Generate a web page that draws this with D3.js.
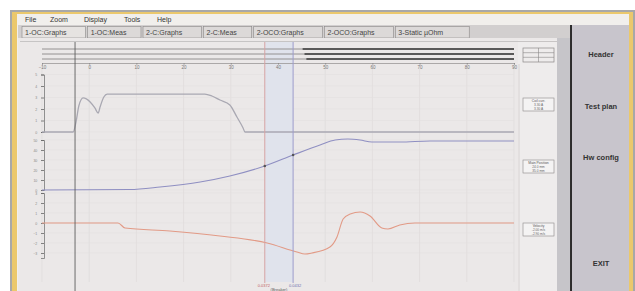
<!DOCTYPE html>
<html>
<head>
<meta charset="utf-8">
<script src="https://cdn.jsdelivr.net/npm/d3@7"></script>
<style>
  html, body { margin: 0; padding: 0; background: #fff; }
  svg { display: block; font-family: "Liberation Sans", Arial, sans-serif; }
</style>
</head>
<body>
<svg id="chart" width="635" height="291"></svg>
<script>
// ---- data (time in ms) ----
const menuItems  = ["File", "Zoom", "Display", "Tools", "Help"];
const tabNames   = ["1-OC:Graphs", "1-OC:Meas", "2-C:Graphs", "2-C:Meas", "2-OCO:Graphs", "2-OCO:Graphs", "3-Static \u00b5Ohm"];
const sideButtons = ["Header", "Test plan", "Hw config", "EXIT"];
const timeTicks  = [-10, 0, 10, 20, 30, 40, 50, 60, 70, 80, 90];

// coil current (A)
const coilTime = [-10, -3.4, -2.8, -2.2, -1.3, 0.2, 1.2, 1.9, 2.3, 3.1, 3.8, 24.5, 26.0, 27.7, 29.8, 31.3, 32.6, 33.0, 90];
const coilAmp  = [0, 0, 0.87, 2.26, 2.96, 2.61, 2.09, 1.65, 2.17, 3.04, 3.3, 3.3, 3.13, 2.78, 2.35, 1.3, 0.35, 0, 0];

// main contact travel (mm)
const travelTime = [-10, 8.6, 15.0, 23.5, 29.8, 37.2, 43.2, 48.9, 52.1, 54.8, 57.4, 59.9, 65.8, 72.2, 90];
const travelMm   = [0, 0.5, 3, 8, 14, 24, 35, 45, 50, 51, 50, 48, 48, 49, 49];

// velocity (m/s)
const velTime = [-10, 6.1, 7.6, 17.1, 27.7, 37.7, 44.0, 45.7, 47.2, 51.0, 52.5, 53.8, 55.3, 57.4, 59.5, 62.0, 63.3, 65.8, 69.0, 90];
const velMs   = [0, 0, -0.5, -0.8, -1.3, -2.0, -2.9, -3.1, -3.0, -2.4, -1.4, 0.4, 0.9, 1.1, 0.7, -0.5, -0.6, -0.2, 0, 0];

// contact timing channels: change of state (ms)
const contactNames = ["A", "B", "C"];
const contactOpen  = [45.2, 45.6, 46.0];

// cursors (ms)
const cursorNames = ["T0", "C1", "C2"];
const cursorTime  = [-3.0, 37.2, 43.2];

const infoTitles = ["Coil curr.", "Main Position", "Velocity"];
const infoValues = [["3.30 A", "3.30 A"], ["24.0 mm", "35.0 mm"], ["-2.00 m/s", "-2.90 m/s"]];

// ---- drawing ----
const svg = d3.select("#chart");
const W = 635, H = 291;

const x  = d3.scaleLinear().domain([-10, 90]).range([42, 514]);
const y1 = d3.scaleLinear().domain([0, 5]).range([132, 74.5]);
const y2 = d3.scaleLinear().domain([0, 50]).range([190, 140]);
const y3 = d3.scaleLinear().domain([-3.5, 3]).range([258, 193]);

// window frame
svg.append("rect").attr("width", W).attr("height", H).attr("fill", "#fff");
svg.append("rect").attr("x", 10).attr("y", 10).attr("width", 625).attr("height", 281).attr("fill", "#a8a8a8");
svg.append("rect").attr("x", 12).attr("y", 12).attr("width", 621).attr("height", 279).attr("fill", "#ebc86c");
svg.append("rect").attr("x", 17).attr("y", 14).attr("width", 612).attr("height", 277).attr("fill", "#f1efec");

// menu
const menuX = [25, 50, 84, 124, 157];
menuItems.forEach((m, i) => {
  svg.append("text").attr("x", menuX[i]).attr("y", 22).attr("font-size", 7).attr("fill", "#333").text(m);
});

// tab row
svg.append("rect").attr("x", 18).attr("y", 25).attr("width", 552).attr("height", 13).attr("fill", "#d2cfcf");
let tx = 22;
tabNames.forEach((t, i) => {
  const w = t.length * 5.15 + 7;
  svg.append("rect").attr("x", tx).attr("y", 26.5).attr("width", w).attr("height", 11.5)
    .attr("fill", i === 0 ? "#e6e3e1" : "#dcd9d8").attr("stroke", "#8a8888").attr("stroke-width", 0.6);
  svg.append("text").attr("x", tx + 3).attr("y", 35).attr("font-size", 7).attr("fill", "#444").text(t);
  tx += w + 2;
});

// right panel
svg.append("rect").attr("x", 571).attr("y", 25).attr("width", 58).attr("height", 266).attr("fill", "#c8c5cc");
svg.append("line").attr("x1", 571).attr("x2", 571).attr("y1", 25).attr("y2", 291).attr("stroke", "#1a1a1a").attr("stroke-width", 1.8);
const btnY = [57, 109, 160, 266];
sideButtons.forEach((b, i) => {
  svg.append("text").attr("x", 601).attr("y", btnY[i]).attr("text-anchor", "middle")
    .attr("font-size", 7.5).attr("font-weight", "bold").attr("fill", "#333").text(b);
});

// plot panel
svg.append("rect").attr("x", 18).attr("y", 38).attr("width", 540).attr("height", 253).attr("fill", "#ebe8e8");
svg.append("rect").attr("x", 557).attr("y", 38).attr("width", 13).attr("height", 253).attr("fill", "#c6c5c9");
svg.append("rect").attr("x", 518).attr("y", 40).attr("width", 39).attr("height", 251).attr("fill", "#eeecec");
svg.append("line").attr("x1", 519).attr("x2", 519).attr("y1", 64).attr("y2", 291).attr("stroke", "#d0cdcd").attr("stroke-width", 0.8);
svg.append("line").attr("x1", 20).attr("x2", 557).attr("y1", 41.5).attr("y2", 41.5).attr("stroke", "#bdbaba").attr("stroke-width", 0.8);

// faint grid
const grid = svg.append("g").attr("stroke", "#dcd9d9").attr("stroke-width", 0.6);
timeTicks.forEach(t => grid.append("line").attr("x1", x(t)).attr("x2", x(t)).attr("y1", 64).attr("y2", 282));
const hLines = y1.ticks(5).map(y1).concat(y2.ticks(5).map(y2), y3.ticks(7).map(y3));
hLines.forEach(v => grid.append("line").attr("x1", 44).attr("x2", 514).attr("y1", v).attr("y2", v).attr("stroke", "#e2dfdf"));

// cursor band
svg.append("rect").attr("x", x(cursorTime[1])).attr("y", 42).attr("width", x(cursorTime[2]) - x(cursorTime[1]))
  .attr("height", 240).attr("fill", "#e0e3ec");

// time axis
const xAxis = svg.append("g").attr("transform", "translate(0,63)")
  .call(d3.axisBottom(x).tickValues(timeTicks).tickSize(1.5).tickFormat(d3.format("d")));
xAxis.select(".domain").attr("stroke", "#8f8d8d").attr("stroke-width", 0.7);
xAxis.selectAll(".tick line").attr("stroke", "#8f8d8d");
xAxis.selectAll("text").attr("font-size", 4.5).attr("fill", "#777").attr("dy", "0.4em");

// contact timing lines
contactNames.forEach((c, i) => {
  const yy = 49 + i * 5;
  svg.append("line").attr("x1", x(-10)).attr("x2", x(contactOpen[i])).attr("y1", yy).attr("y2", yy)
    .attr("stroke", "#8a8888").attr("stroke-width", 0.9);
  svg.append("line").attr("x1", x(contactOpen[i])).attr("x2", x(90)).attr("y1", yy).attr("y2", yy)
    .attr("stroke", "#2a2a2a").attr("stroke-width", 1.7);
});
svg.append("rect").attr("x", 523).attr("y", 48).attr("width", 31).attr("height", 14)
  .attr("fill", "none").attr("stroke", "#8a8888").attr("stroke-width", 0.7);
[[538.5, 48, 538.5, 62], [523, 52.7, 554, 52.7], [523, 57.3, 554, 57.3]].forEach(l =>
  svg.append("line").attr("x1", l[0]).attr("y1", l[1]).attr("x2", l[2]).attr("y2", l[3])
    .attr("stroke", "#8a8888").attr("stroke-width", 0.6));

// left axes
function leftAxis(scale, ticks) {
  const g = svg.append("g").attr("transform", "translate(44,0)")
    .call(d3.axisLeft(scale).ticks(ticks).tickSize(3).tickFormat(d3.format("~g")));
  g.select(".domain").attr("stroke", "#777").attr("stroke-width", 0.8);
  g.selectAll(".tick line").attr("stroke", "#666").attr("stroke-width", 0.8);
  g.selectAll("text").attr("font-size", 3.5).attr("fill", "#888").attr("dx", "-0.2em");
}
leftAxis(y1, 5);
leftAxis(y2, 5);
leftAxis(y3, 7);

// traces
const line = (ys, xs, vs) => d3.line().curve(d3.curveMonotoneX)
  .x((d, i) => x(xs[i])).y((d, i) => ys(vs[i]))(xs);
svg.append("path").attr("d", line(y1, coilTime, coilAmp)).attr("fill", "none")
  .attr("stroke", "#a9a8b2").attr("stroke-width", 1.3);
svg.append("path").attr("d", line(y2, travelTime, travelMm)).attr("fill", "none")
  .attr("stroke", "#8f8fc2").attr("stroke-width", 1.1);
svg.append("path").attr("d", line(y3, velTime, velMs)).attr("fill", "none")
  .attr("stroke", "#e29a86").attr("stroke-width", 1.1);

// cursors
const cursorColor = ["#5e5e5e", "#d6a3a3", "#9c9ccc"];
const cursorEnd = [291, 283, 283];
cursorTime.forEach((t, i) => {
  svg.append("line").attr("x1", x(t)).attr("x2", x(t)).attr("y1", 42).attr("y2", cursorEnd[i])
    .attr("stroke", cursorColor[i]).attr("stroke-width", i === 0 ? 0.9 : 1);
});
// markers where cursors cross the travel trace
const interp = (xs, vs, t) => d3.scaleLinear().domain(xs).range(vs)(t);
[1, 2].forEach(i => {
  svg.append("circle").attr("cx", x(cursorTime[i])).attr("cy", y2(interp(travelTime, travelMm, cursorTime[i])))
    .attr("r", 1.3).attr("fill", "#555");
});

// cursor read-outs
svg.append("text").attr("x", x(cursorTime[1]) - 1).attr("y", 287).attr("text-anchor", "middle")
  .attr("font-size", 4).attr("fill", "#c06060").text((cursorTime[1] / 1000).toFixed(4));
svg.append("text").attr("x", x(cursorTime[2]) + 2).attr("y", 287).attr("text-anchor", "middle")
  .attr("font-size", 4).attr("fill", "#7070b0").text((cursorTime[2] / 1000).toFixed(4));
svg.append("text").attr("x", (x(cursorTime[1]) + x(cursorTime[2])) / 2).attr("y", 291).attr("text-anchor", "middle")
  .attr("font-size", 4).attr("fill", "#555").text("(Breaker)");

// info boxes
const boxY = [98, 160, 223];
infoTitles.forEach((t, i) => {
  svg.append("rect").attr("x", 523).attr("y", boxY[i]).attr("width", 31).attr("height", 13)
    .attr("fill", "#f4f3f3").attr("stroke", "#8a8888").attr("stroke-width", 0.6);
  svg.append("text").attr("x", 538.5).attr("y", boxY[i] + 4).attr("text-anchor", "middle")
    .attr("font-size", 3.4).attr("fill", "#555").text(t);
  infoValues[i].forEach((v, j) => {
    svg.append("text").attr("x", 538.5).attr("y", boxY[i] + 8 + j * 3.8).attr("text-anchor", "middle")
      .attr("font-size", 3.2).attr("fill", "#666").text(v);
  });
});
</script>
</body>
</html>
